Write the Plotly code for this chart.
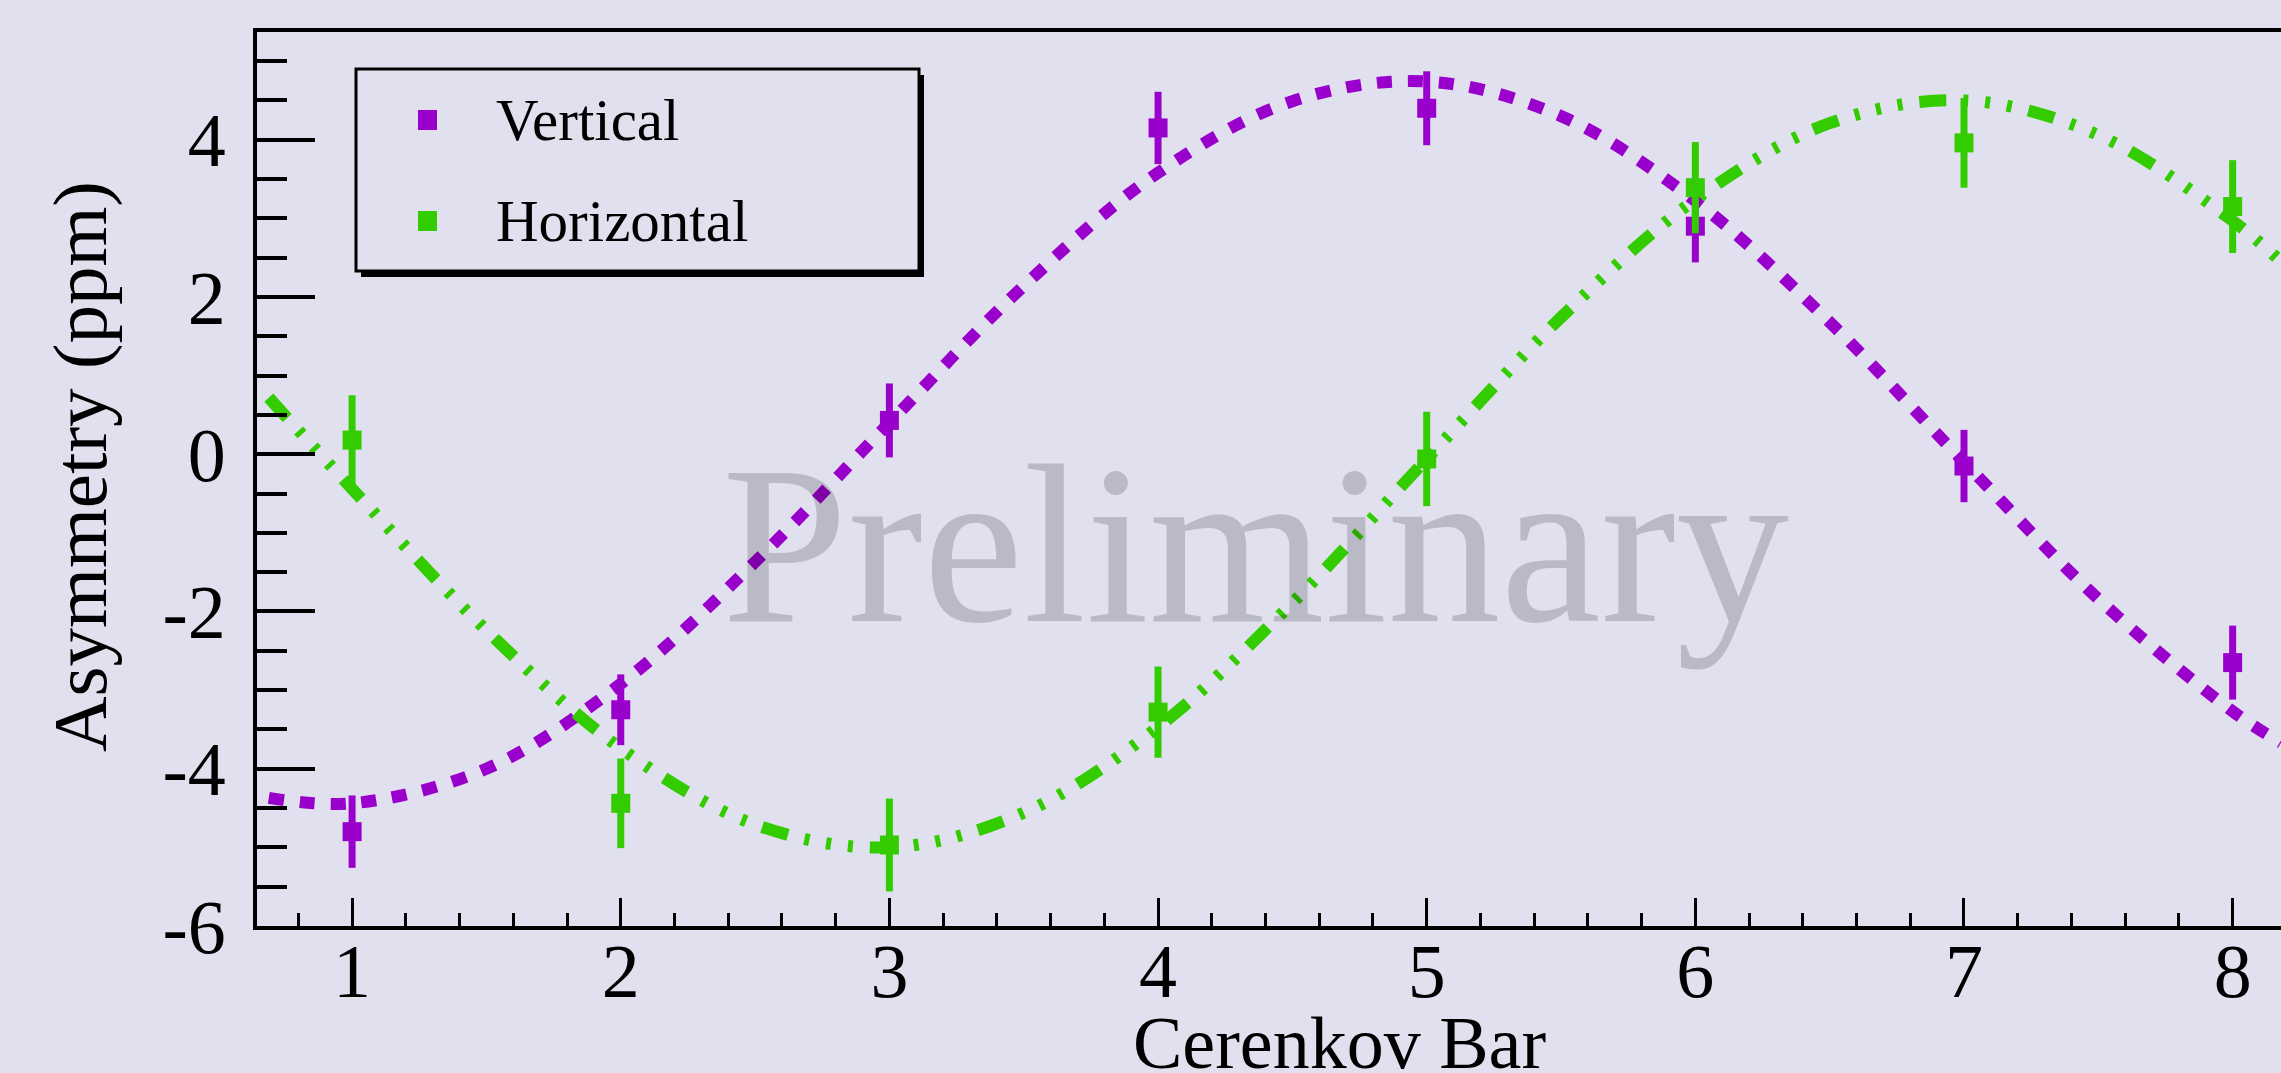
import plotly.graph_objects as go

# ---------------- data ----------------
bars = [1, 2, 3, 4, 5, 6, 7, 8]

vertical = [-4.80, -3.25, 0.43, 4.15, 4.40, 2.90, -0.15, -2.65]
vertical_err = [0.46, 0.45, 0.47, 0.46, 0.47, 0.46, 0.46, 0.47]

horizontal = [0.18, -4.44, -4.97, -3.28, -0.06, 3.39, 3.96, 3.15]
horizontal_err = [0.57, 0.57, 0.59, 0.58, 0.60, 0.58, 0.57, 0.59]

# fitted curves
fit_x = [0.69, 1.0, 1.5, 2.0, 2.5, 3.0, 3.5, 4.0, 4.5, 5.0, 5.5, 6.0, 6.5, 7.0, 7.5, 8.0, 8.18]
fit_vertical = [-4.37, -4.44, -4.00, -2.92, -1.37, 0.40, 2.14, 3.58, 4.49, 4.74, 4.30,
                3.22, 1.68, -0.10, -1.84, -3.27, -3.67]
fit_horizontal = [0.72, -0.44, -2.24, -3.74, -4.71, -5.00, -4.56, -3.47, -1.89, -0.06,
                  1.74, 3.24, 4.21, 4.50, 4.06, 2.97, 2.45]

x_ticks = [1, 2, 3, 4, 5, 6, 7, 8]
x_ticktext = ["1", "2", "3", "4", "5", "6", "7", "8"]
y_ticks = [-6, -4, -2, 0, 2, 4]
y_ticktext = ["-6", "-4", "-2", "0", "2", "4"]

series_names = ["Vertical", "Horizontal"]
x_title = "Cerenkov Bar"
y_title = "Asymmetry (ppm)"
watermark = "Preliminary"

# ---------------- style ----------------
W, H = 2281, 1073
PL, PR, PT, PB = 257, 2281, 32, 926
BG = "rgb(224,224,238)"
PURPLE = "rgb(153,0,204)"
GREEN = "rgb(51,204,0)"
FONT = "Liberation Serif"


def px(x):
    return (x - PL) / (PR - PL)


def py(y):
    return (PB - y) / (PB - PT)


fig = go.Figure()

fig.add_trace(go.Scatter(
    x=fit_x, y=fit_vertical, mode="lines", line_shape="spline",
    line=dict(color=PURPLE, width=12, dash="15px,16px"),
    showlegend=False, hoverinfo="skip"))
fig.add_trace(go.Scatter(
    x=bars, y=vertical, mode="markers", name=series_names[0],
    marker=dict(symbol="square", size=19, color=PURPLE, line=dict(width=0)),
    error_y=dict(type="data", array=vertical_err, visible=True,
                 thickness=7, width=0, color=PURPLE),
    showlegend=False))
fig.add_trace(go.Scatter(
    x=fit_x, y=fit_horizontal, mode="lines", line_shape="spline",
    line=dict(color=GREEN, width=12,
              dash="27px,17px,5px,17px,5px,17px,5px,17px"),
    showlegend=False, hoverinfo="skip"))
fig.add_trace(go.Scatter(
    x=bars, y=horizontal, mode="markers", name=series_names[1],
    marker=dict(symbol="square", size=19, color=GREEN, line=dict(width=0)),
    error_y=dict(type="data", array=horizontal_err, visible=True,
                 thickness=7, width=0, color=GREEN),
    showlegend=False))

# ---------------- legend (drawn box with shadow) ----------------
shapes = [
    dict(type="rect", xref="paper", yref="paper", layer="above",
         x0=px(361), x1=px(924), y0=py(75), y1=py(277),
         fillcolor="black", line=dict(width=0)),
    dict(type="rect", xref="paper", yref="paper", layer="above",
         x0=px(356), x1=px(919), y0=py(69), y1=py(271),
         fillcolor=BG, line=dict(color="black", width=3)),
]
legend_rows = [(series_names[0], PURPLE, 120), (series_names[1], GREEN, 221)]
annotations = []
for name, col, yc in legend_rows:
    shapes.append(dict(type="rect", xref="paper", yref="paper", layer="above",
                       x0=px(418), x1=px(437), y0=py(yc - 10), y1=py(yc + 10),
                       fillcolor=col, line=dict(width=0)))
    annotations.append(dict(text=name, xref="paper", yref="paper",
                            x=px(494), y=py(yc), xanchor="left", yanchor="middle",
                            showarrow=False, font=dict(family=FONT, size=59, color="black")))

annotations += [
    dict(text=watermark, xref="paper", yref="paper", x=px(1255), y=py(545),
         xanchor="center", yanchor="middle", showarrow=False,
         font=dict(family=FONT, size=226, color="rgba(0,0,0,0.17)")),
    dict(text=x_title, xref="paper", yref="paper", x=px(1339), y=py(1043),
         xanchor="center", yanchor="middle", showarrow=False,
         font=dict(family=FONT, size=74, color="black")),
    dict(text=y_title, xref="paper", yref="paper", x=px(80), y=py(467),
         xanchor="center", yanchor="middle", showarrow=False, textangle=-90,
         font=dict(family=FONT, size=77, color="black")),
]

fig.update_layout(
    width=W, height=H,
    paper_bgcolor=BG, plot_bgcolor=BG,
    margin=dict(l=PL, r=W - PR, t=PT, b=H - PB, pad=0),
    showlegend=False,
    shapes=shapes, annotations=annotations,
    font=dict(family=FONT, color="black"),
)
fig.update_xaxes(
    range=[0.646, 8.18], showgrid=False, zeroline=False, automargin=False,
    showline=True, linecolor="black", linewidth=4, mirror=True,
    ticks="inside", ticklen=28, tickwidth=3, tickcolor="black",
    tickvals=x_ticks, ticktext=x_ticktext,
    tickfont=dict(family=FONT, size=76, color="black"),
    ticklabelstandoff=-24,
    minor=dict(ticks="inside", ticklen=13, tickwidth=3, tickcolor="black",
               dtick=0.2, tick0=0, showgrid=False),
)
fig.update_yaxes(
    range=[-6, 5.37], showgrid=False, zeroline=False, automargin=False,
    showline=True, linecolor="black", linewidth=4, mirror=False,
    ticks="inside", ticklen=58, tickwidth=4, tickcolor="black",
    tickvals=y_ticks, ticktext=y_ticktext,
    tickfont=dict(family=FONT, size=76, color="black"),
    ticklabelstandoff=12,
    minor=dict(ticks="inside", ticklen=30, tickwidth=4, tickcolor="black",
               dtick=0.5, tick0=0, showgrid=False),
)

fig.write_html(
    "out.html",
    config={"displayModeBar": False},
    post_script="document.body.style.margin='0';document.body.style.overflow='hidden';",
)
